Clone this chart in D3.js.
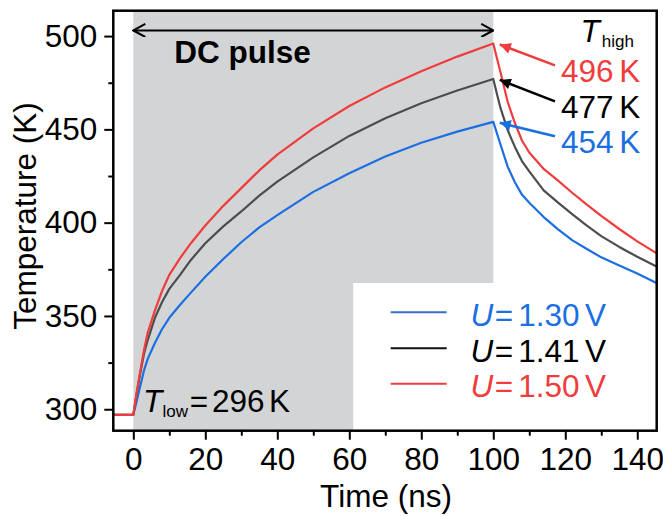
<!DOCTYPE html>
<html>
<head>
<meta charset="utf-8">
<script src="https://cdn.jsdelivr.net/npm/d3@7"></script>
<style>
  body { margin: 0; background: #fff; }
  text { font-family: "Liberation Sans", Arial, sans-serif; }
</style>
</head>
<body>
<div class="chart"></div>
<script>
// time grid (ns) and temperatures (K)
var time = [-6, 0, 1, 2, 3, 4, 6, 8, 10, 13, 16, 20, 25, 30, 35, 40, 50, 60, 70, 80, 90, 100,
            101, 102, 104, 106, 108, 110, 114, 118, 122, 126, 130, 135, 140, 146];
var tempLow  = [297, 297, 305, 313, 321, 327, 335.5, 343, 349, 356, 362.5, 371, 380.5, 389.5, 397.5, 404, 416.5, 426.5, 435.5, 442.8, 448.8, 454,
                448, 441.9, 430, 421.7, 414.9, 410.7, 403, 396.4, 390.5, 385.9, 381.4, 377.1, 372.8, 367];
var tempMid  = [297, 297, 309, 320, 330, 337, 349, 357.5, 364.5, 372, 380, 389, 398, 406, 414.5, 422, 435, 446.5, 456, 464, 470.8, 477,
                469.1, 461.5, 449.6, 440.6, 432.9, 427.5, 417.3, 410.7, 404.4, 398.4, 392.8, 387, 381.7, 375.9];
var tempHigh = [297, 297, 310, 321, 332, 341, 353, 363.5, 372, 381, 389, 398.5, 409, 418.5, 428, 436.5, 450.5, 462.5, 472.5, 481.2, 489, 496,
                488.3, 480.6, 464.8, 453.4, 443.9, 437.6, 428.8, 422.5, 415.9, 409.7, 403.6, 396.6, 390, 382.9];

var seriesNames = ["1.30", "1.41", "1.50"];
var seriesTemps = [tempLow, tempMid, tempHigh];
var peakTemps = [454, 477, 496];
var seriesColors = ["#1c6fe0", "#4d4d4d", "#f03c3c"];
var legendColors = ["#3a70c8", "#111111", "#f03c3c"];
var textColors = ["#1c6fe0", "#000000", "#f03c3c"];

var xTicks = [0, 20, 40, 60, 80, 100, 120, 140];
var xMinor = [10, 30, 50, 70, 90, 110, 130];
var yTicks = [300, 350, 400, 450, 500];
var yMinor = [325, 375, 425, 475];

var width = 663, height = 516;
var margin = {top: 10.7, right: 6.3, bottom: 85.3, left: 113.3};
var w = width - margin.left - margin.right,
    h = height - margin.top - margin.bottom;
var fs = "31.5px";

var x = d3.scaleLinear().domain([-5.56, 145.4]).range([0, w]);
var y = d3.scaleLinear().domain([288.5, 513.6]).range([h, 0]);

var svg = d3.select(".chart").append("svg")
    .attr("width", width)
    .attr("height", height)
  .append("g")
    .attr("transform", "translate(" + margin.left + "," + margin.top + ")");

var defs = svg.append("defs");

defs.append("clipPath")
    .attr("id", "plot-clip")
  .append("rect")
    .attr("width", w)
    .attr("height", h);

defs.append("marker")
    .attr("id", "open-end")
    .attr("viewBox", "0 0 14 14")
    .attr("refX", 13)
    .attr("refY", 7)
    .attr("markerWidth", 14)
    .attr("markerHeight", 14)
    .attr("markerUnits", "userSpaceOnUse")
    .attr("orient", "auto-start-reverse")
  .append("path")
    .attr("d", "M 1 0.5 L 13 7 L 1 13.5")
    .style("fill", "none")
    .style("stroke", "black")
    .style("stroke-width", 2);

seriesColors.forEach(function(c, i) {
  defs.append("marker")
      .attr("id", "head-" + i)
      .attr("viewBox", "0 0 10 10")
      .attr("refX", 10)
      .attr("refY", 5)
      .attr("markerWidth", 14)
      .attr("markerHeight", 11)
      .attr("markerUnits", "userSpaceOnUse")
      .attr("orient", "auto")
    .append("path")
      .attr("d", "M 0 0 L 10 5 L 0 10 z")
      .style("fill", i == 1 ? "black" : c);
});

// shaded pulse
svg.append("rect")
    .attr("x", x(0))
    .attr("width", x(100) - x(0))
    .attr("height", h)
    .style("fill", "#d3d4d6");

// white legend box
var boxTop = 283 - margin.top;
svg.append("rect")
    .attr("x", x(61.1))
    .attr("y", boxTop)
    .attr("width", w - x(61.1))
    .attr("height", h - boxTop)
    .style("fill", "white");

// axes
svg.append("g")
    .attr("transform", "translate(0," + h + ")")
    .call(d3.axisBottom(x).tickValues(xTicks).tickSize(9).tickPadding(8).tickSizeOuter(0));
svg.append("g")
    .attr("transform", "translate(0," + h + ")")
    .call(d3.axisBottom(x).tickValues(xMinor).tickSize(5).tickFormat("").tickSizeOuter(0));
svg.append("g")
    .call(d3.axisLeft(y).tickValues(yTicks).tickSize(9).tickPadding(7).tickSizeOuter(0));
svg.append("g")
    .call(d3.axisLeft(y).tickValues(yMinor).tickSize(5).tickFormat("").tickSizeOuter(0));

svg.selectAll(".domain").remove();
svg.selectAll(".tick line").style("stroke", "black").style("stroke-width", "2px");
svg.selectAll(".tick text")
    .style("font-size", fs)
    .style("fill", "black");

// curves
var line = d3.line()
    .x(function(d) { return x(d[0]); })
    .y(function(d) { return y(d[1]); });

var curves = svg.append("g").attr("clip-path", "url(#plot-clip)");
seriesTemps.forEach(function(temps, i) {
  curves.append("path")
      .datum(time.map(function(t, j) { return [t, temps[j]]; }))
      .attr("d", line)
      .style("fill", "none")
      .style("stroke", seriesColors[i])
      .style("stroke-width", "2.2px")
      .style("stroke-linejoin", "round");
});

// DC pulse arrow
svg.append("line")
    .attr("x1", x(0))
    .attr("x2", x(100))
    .attr("y1", y(503))
    .attr("y2", y(503))
    .attr("marker-start", "url(#open-end)")
    .attr("marker-end", "url(#open-end)")
    .style("stroke", "black")
    .style("stroke-width", "2px");

svg.append("text")
    .attr("x", x(11.4))
    .attr("y", 63.3 - margin.top)
    .style("font-size", fs)
    .style("font-weight", "bold")
    .text("DC pulse");

// T_high annotation
var th = svg.append("text")
    .attr("x", 580.5 - margin.left)
    .attr("y", 41.7 - margin.top)
    .style("font-size", fs);
th.append("tspan").style("font-style", "italic").text("T");
th.append("tspan").attr("dx", 2).attr("dy", 5).style("font-size", "17px").text("high");

var labelBase = [153.3, 118.3, 82.3];
peakTemps.forEach(function(p, i) {
  var tipX = x(101.8), tipY = y(p - 0.5);
  svg.append("line")
      .attr("x1", 555 - margin.left)
      .attr("y1", labelBase[i] - 17 - margin.top)
      .attr("x2", tipX)
      .attr("y2", tipY)
      .attr("marker-end", "url(#head-" + i + ")")
      .style("stroke", i == 1 ? "black" : seriesColors[i])
      .style("stroke-width", "2.5px");
  var t = svg.append("text")
      .attr("y", labelBase[i] - margin.top)
      .style("font-size", fs)
      .style("fill", textColors[i]);
  t.append("tspan").attr("x", 561 - margin.left).text(p);
  t.append("tspan").attr("x", 619.2 - margin.left).text("K");
});

// T_low annotation
var tl = svg.append("text")
    .attr("y", 411.7 - margin.top)
    .style("font-size", fs);
tl.append("tspan").attr("x", 143 - margin.left).style("font-style", "italic").text("T");
tl.append("tspan").attr("x", 162.5 - margin.left).attr("dy", 5).style("font-size", "17px").text("low");
tl.append("tspan").attr("x", 189.8 - margin.left).attr("dy", -5).text("=");
tl.append("tspan").attr("x", 212 - margin.left).text("296");
tl.append("tspan").attr("x", 269 - margin.left).text("K");

// legend
var legendBase = [325.7, 361.7, 397.3];
seriesNames.forEach(function(name, i) {
  var ly = legendBase[i] - margin.top;
  svg.append("line")
      .attr("x1", 390.7 - margin.left)
      .attr("x2", 446.7 - margin.left)
      .attr("y1", ly - 13.5)
      .attr("y2", ly - 13.5)
      .style("stroke", legendColors[i])
      .style("stroke-width", "2px");
  var t = svg.append("text")
      .attr("y", ly)
      .style("font-size", fs)
      .style("fill", textColors[i]);
  var x0 = 470.5 - margin.left;
  t.append("tspan").attr("x", x0).style("font-style", "italic").text("U");
  t.append("tspan").attr("x", x0 + 24.3).text("=");
  t.append("tspan").attr("x", x0 + 47.8).text(name);
  t.append("tspan").attr("x", x0 + 114.5).text("V");
});

// frame
svg.append("rect")
    .attr("width", w)
    .attr("height", h)
    .style("fill", "none")
    .style("stroke", "black")
    .style("stroke-width", "2.5px");

// axis titles
svg.append("text")
    .attr("x", w / 2 + 1)
    .attr("y", 507 - margin.top)
    .attr("text-anchor", "middle")
    .style("font-size", fs)
    .text("Time (ns)");

svg.append("text")
    .attr("transform", "translate(" + (35.5 - margin.left) + "," + (216 - margin.top) + ") rotate(-90)")
    .attr("text-anchor", "middle")
    .style("font-size", fs)
    .text("Temperature (K)");
</script>
</body>
</html>
